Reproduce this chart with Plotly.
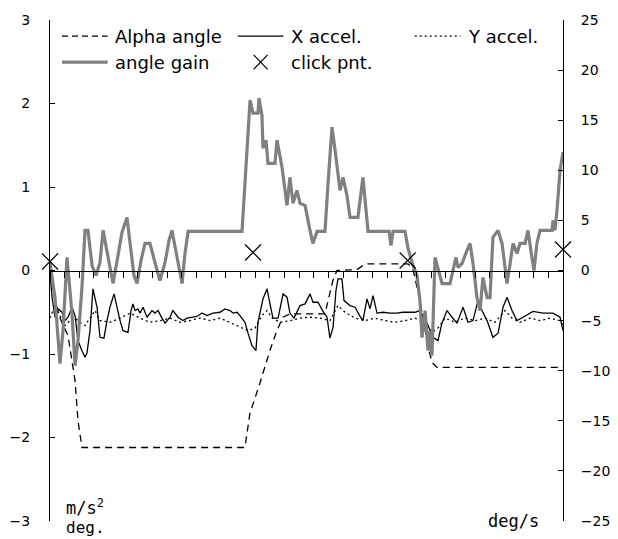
import plotly.graph_objects as go

# ---------------- data ----------------
# time axis 0..35 (one tick per unit)
alpha_t = [0.00, 0.34, 0.68, 1.23, 1.71, 1.91, 2.18, 13.30, 13.64, 14.32, 15.00, 15.48, 15.89,
           16.37, 18.76, 19.10, 19.30, 19.58, 20.94, 21.35, 21.69, 24.42, 24.76, 25.24, 25.78,
           26.06, 26.40, 35.00]
alpha_v = [0.00, -0.36, -0.57, -0.78, -1.32, -1.80, -2.12, -2.12, -1.71, -1.35, -0.96, -0.72, -0.56,
           -0.52, -0.52, -0.28, -0.12, 0.00, 0.01, 0.06, 0.08, 0.08, 0.02, -0.36, -0.90,
           -1.10, -1.16, -1.16]

xacc_t = [0.00, 0.14, 0.34, 0.55, 0.82, 1.02, 1.23, 1.50, 1.71, 1.91, 2.18, 2.39, 2.52, 2.73, 2.93,
          3.21, 3.41, 3.68, 3.89, 4.09, 4.37, 4.57, 4.78, 4.98, 5.32, 5.53, 5.66, 5.80, 6.00, 6.14,
          6.35, 6.62, 6.96, 7.16, 7.37, 7.64, 7.85, 8.19, 8.39, 8.73, 9.07, 9.35, 9.69, 10.03, 10.37,
          10.71, 11.12, 11.60, 11.94, 12.28, 12.49, 12.76, 12.96, 13.30, 13.51, 13.78, 14.05, 14.19,
          14.53, 14.81, 15.01, 15.21, 15.56, 15.90, 16.17, 16.37, 16.65, 16.85, 17.06, 17.40, 17.74,
          17.94, 18.28, 18.63, 18.90, 19.10, 19.31, 19.51, 19.65, 19.92, 20.06, 20.47, 20.81, 21.15,
          21.35, 21.63, 21.83, 22.04, 22.31, 22.72, 23.20, 23.67, 24.08, 24.56, 24.90, 25.24, 25.72,
          26.13, 26.47, 26.74, 27.09, 27.43, 27.77, 28.18, 28.52, 28.86, 29.20, 29.47, 29.82, 30.22,
          30.57, 30.91, 31.18, 31.52, 31.86, 32.27, 32.95, 33.64, 34.32, 34.80, 35.00]
xacc_v = [-0.02, -0.32, -0.56, -0.46, -0.50, -0.60, -0.56, -0.44, -0.54, -0.84, -0.96, -1.04, -0.99,
          -0.72, -0.22, -0.44, -0.80, -0.81, -0.60, -0.44, -0.28, -0.44, -0.60, -0.72, -0.74, -0.48,
          -0.40, -0.48, -0.46, -0.51, -0.44, -0.56, -0.48, -0.51, -0.48, -0.57, -0.63, -0.56, -0.48,
          -0.56, -0.60, -0.57, -0.56, -0.55, -0.51, -0.54, -0.51, -0.50, -0.46, -0.48, -0.51, -0.50,
          -0.54, -0.62, -0.75, -0.90, -0.96, -0.62, -0.34, -0.22, -0.40, -0.57, -0.57, -0.28, -0.32,
          -0.51, -0.57, -0.50, -0.42, -0.40, -0.28, -0.38, -0.38, -0.49, -0.56, -0.81, -0.68, -0.24,
          -0.10, -0.10, -0.36, -0.42, -0.44, -0.55, -0.60, -0.34, -0.46, -0.30, -0.51, -0.50, -0.51,
          -0.51, -0.50, -0.50, -0.50, -0.48, -0.63, -0.80, -0.84, -0.63, -0.48, -0.56, -0.63, -0.44,
          -0.62, -0.60, -0.36, -0.48, -0.60, -0.80, -0.75, -0.44, -0.32, -0.48, -0.60, -0.56, -0.49,
          -0.51, -0.51, -0.56, -0.72]

yacc_t = [0.00, 0.34, 0.68, 1.02, 1.36, 1.71, 2.05, 2.39, 2.73, 3.07, 3.41, 4.09, 4.78, 5.46, 6.14,
          6.82, 7.50, 8.19, 8.87, 9.55, 10.23, 10.92, 11.60, 12.28, 12.96, 13.51, 13.99, 14.46, 14.81,
          15.15, 15.69, 16.37, 17.06, 17.74, 18.42, 19.10, 19.65, 20.13, 20.81, 21.49, 22.17, 22.86,
          23.54, 24.22, 24.90, 25.59, 26.06, 26.47, 26.95, 27.63, 28.31, 29.00, 29.68, 30.36, 31.04,
          31.52, 32.07, 32.75, 33.43, 34.11, 34.80, 35.00]
yacc_v = [-0.57, -0.42, -0.54, -0.66, -0.60, -0.57, -0.62, -0.66, -0.57, -0.48, -0.60, -0.62, -0.57,
          -0.51, -0.57, -0.62, -0.60, -0.57, -0.62, -0.60, -0.57, -0.60, -0.57, -0.62, -0.67, -0.72,
          -0.69, -0.54, -0.48, -0.57, -0.62, -0.60, -0.57, -0.56, -0.57, -0.60, -0.42, -0.50, -0.57,
          -0.60, -0.57, -0.60, -0.62, -0.60, -0.57, -0.62, -0.74, -0.69, -0.57, -0.62, -0.57, -0.60,
          -0.57, -0.62, -0.48, -0.57, -0.62, -0.57, -0.60, -0.57, -0.60, -0.66]

# angle gain in deg/s (right axis)
gain_t = [0.00, 0.34, 0.68, 0.89, 1.16, 1.50, 1.71, 1.91, 2.18, 2.39, 2.59, 2.87, 3.14, 3.41, 3.62,
          3.89, 4.30, 4.64, 4.91, 5.25, 5.53, 5.73, 5.94, 6.21, 6.48, 6.82, 7.16, 7.50, 7.85, 8.12,
          8.32, 8.60, 8.87, 9.01, 9.21, 9.42, 13.10, 13.30, 13.65, 13.85, 14.19, 14.26, 14.46, 14.53,
          14.74, 14.87, 15.35, 15.49, 15.83, 16.17, 16.37, 16.58, 16.85, 17.06, 17.40, 17.74, 17.94,
          18.22, 18.76, 18.97, 19.24, 19.45, 19.79, 19.99, 20.26, 20.47, 21.01, 21.35, 21.70, 23.13,
          23.27, 23.40, 24.22, 24.43, 24.70, 25.04, 25.24, 25.38, 25.59, 25.79, 25.93, 26.06, 26.27,
          26.47, 26.75, 27.29, 27.50, 27.70, 27.84, 28.11, 28.45, 28.66, 28.86, 29.13, 29.34, 29.54,
          29.82, 30.02, 30.22, 30.57, 30.84, 31.18, 31.39, 31.59, 31.86, 32.07, 32.41, 32.61, 32.88,
          33.02, 33.22, 33.43, 34.25, 34.32, 34.45, 34.59, 34.80, 35.00]
gain_v = [0.8, -2.7, -9.3, -6.0, 1.3, -4.3, -9.5, -7.0, -1.7, 4.0, 4.0, 0.5, -0.5, 0.8, 4.0,
          2.0, -1.3, 1.5, 3.8, 5.3, 2.0, -0.5, -1.3, 1.0, 2.7, 2.7, 0.8, -1.0, 0.8, 3.0,
          4.0, 2.0, 0.0, -1.3, 1.7, 3.9, 3.9, 9.0, 17.0, 15.7, 15.7, 17.2, 15.5, 12.2,
          13.0, 10.7, 10.7, 13.0, 10.3, 6.5, 9.3, 6.7, 8.0, 6.7, 6.5, 4.0, 2.7,
          3.9, 3.9, 8.7, 14.3, 12.0, 8.0, 9.3, 7.5, 5.3, 5.3, 9.3, 3.9, 3.9,
          2.5, 3.9, 3.9, 2.2, 0.8, -0.5, -3.0, -6.7, -4.0, -8.0, -6.0, -8.5, 1.3,
          0.2, -1.3, -1.3, 0.0, 1.3, 0.3, 0.7, 2.0, 2.7, 0.7, -2.7, -4.0, -0.7,
          -2.7, -2.7, 3.3, 4.0, 2.7, -1.3, 0.7, 2.7, 1.7, 2.7, 2.7, 4.0, 1.3,
          0.0, 2.7, 4.0, 4.0, 5.0, 4.0, 6.0, 10.0, 11.8]

click_t = [0.0, 13.85, 24.4, 35.0]
click_v = [0.9, 1.8, 1.0, 2.1]

series_names = ["Alpha angle", "X accel.", "Y accel.", "angle gain", "click pnt."]

FONT = "DejaVu Sans"
GAIN_COLOR = "#808080"

fig = go.Figure()
fig.add_trace(go.Scatter(x=alpha_t, y=alpha_v, name=series_names[0], mode="lines",
                         line=dict(color="black", width=1.3, dash="7px,5px")))
fig.add_trace(go.Scatter(x=xacc_t, y=xacc_v, name=series_names[1], mode="lines",
                         line=dict(color="black", width=1.3)))
fig.add_trace(go.Scatter(x=yacc_t, y=yacc_v, name=series_names[2], mode="lines",
                         line=dict(color="black", width=1.3, dash="2px,3px")))
fig.add_trace(go.Scatter(x=gain_t, y=gain_v, name=series_names[3], mode="lines", yaxis="y2",
                         line=dict(color=GAIN_COLOR, width=3.2)))
fig.add_trace(go.Scatter(x=click_t, y=click_v, name=series_names[4], mode="markers", yaxis="y2",
                         marker=dict(symbol="x-thin", size=16, color="black",
                                     line=dict(color="black", width=1.2)),
                         cliponaxis=False))

# ---- legend (drawn in paper coordinates, 3 columns x 2 rows) ----
legend_cols = [0.0234, 0.366, 0.711]   # sample start
sample_len = 0.089
row_y = [0.968, 0.916]
legend_items = [
    (series_names[0], 0, 0, dict(color="black", width=1.3, dash="6px,4px")),
    (series_names[1], 1, 0, dict(color="black", width=1.3)),
    (series_names[2], 2, 0, dict(color="black", width=1.3, dash="2px,3px")),
    (series_names[3], 0, 1, dict(color=GAIN_COLOR, width=3.2)),
    (series_names[4], 1, 1, None),
]
shapes = []
annotations = []
for name, c, r, ln in legend_items:
    x0 = legend_cols[c]
    y = row_y[r]
    if ln is not None:
        shapes.append(dict(type="line", xref="paper", yref="paper", x0=x0, x1=x0 + sample_len,
                           y0=y, y1=y, line=ln))
    else:
        xc = x0 + sample_len / 2 + 0.0
        dx, dy = 0.0136, 0.0145
        shapes.append(dict(type="line", xref="paper", yref="paper", x0=xc - dx, x1=xc + dx,
                           y0=y - dy, y1=y + dy, line=dict(color="black", width=1.2)))
        shapes.append(dict(type="line", xref="paper", yref="paper", x0=xc - dx, x1=xc + dx,
                           y0=y + dy, y1=y - dy, line=dict(color="black", width=1.2)))
    annotations.append(dict(text=name, xref="paper", yref="paper", x=x0 + sample_len + 0.01,
                            y=y, xanchor="left", yanchor="middle", showarrow=False,
                            font=dict(family=FONT, size=18, color="black")))

annotations += [
    dict(text="m/s<sup>2</sup>", xref="paper", yref="paper", x=0.028, y=0.028,
         xanchor="left", yanchor="middle", showarrow=False,
         font=dict(family="DejaVu Sans Mono", size=17)),
    dict(text="deg.", xref="paper", yref="paper", x=0.028, y=-0.012,
         xanchor="left", yanchor="middle", showarrow=False,
         font=dict(family="DejaVu Sans Mono", size=16)),
    dict(text="deg/s", xref="paper", yref="paper", x=0.958, y=0.0,
         xanchor="right", yanchor="middle", showarrow=False,
         font=dict(family="DejaVu Sans Mono", size=17)),
]

fig.update_layout(
    width=618, height=539,
    margin=dict(l=50, r=55, t=20, b=18, autoexpand=False),
    paper_bgcolor="white", plot_bgcolor="white",
    font=dict(family=FONT, size=14, color="black"),
    showlegend=False,
    xaxis=dict(range=[0, 35], dtick=1, tick0=0, showticklabels=False, ticks="outside",
               ticklen=6, tickcolor="black", showline=True, linecolor="black", linewidth=1,
               showgrid=False, zeroline=False, anchor="free", position=0.5),
    yaxis=dict(range=[-3, 3], dtick=1, ticks="inside", ticklen=5, tickcolor="black",
               showline=True, linecolor="black", linewidth=1, showgrid=False, zeroline=False,
               ticklabelstandoff=16, tickfont=dict(size=14)),
    yaxis2=dict(range=[-25, 25], dtick=5, ticks="inside", ticklen=5, tickcolor="black",
                showline=True, linecolor="black", linewidth=1, showgrid=False, zeroline=False,
                overlaying="y", side="right", ticklabelstandoff=14, tickfont=dict(size=14)),
    shapes=shapes,
    annotations=annotations,
)

fig.write_html("out.html", config={"displayModeBar": False},
               post_script="document.body.style.margin='0';document.body.style.overflow='hidden';")
